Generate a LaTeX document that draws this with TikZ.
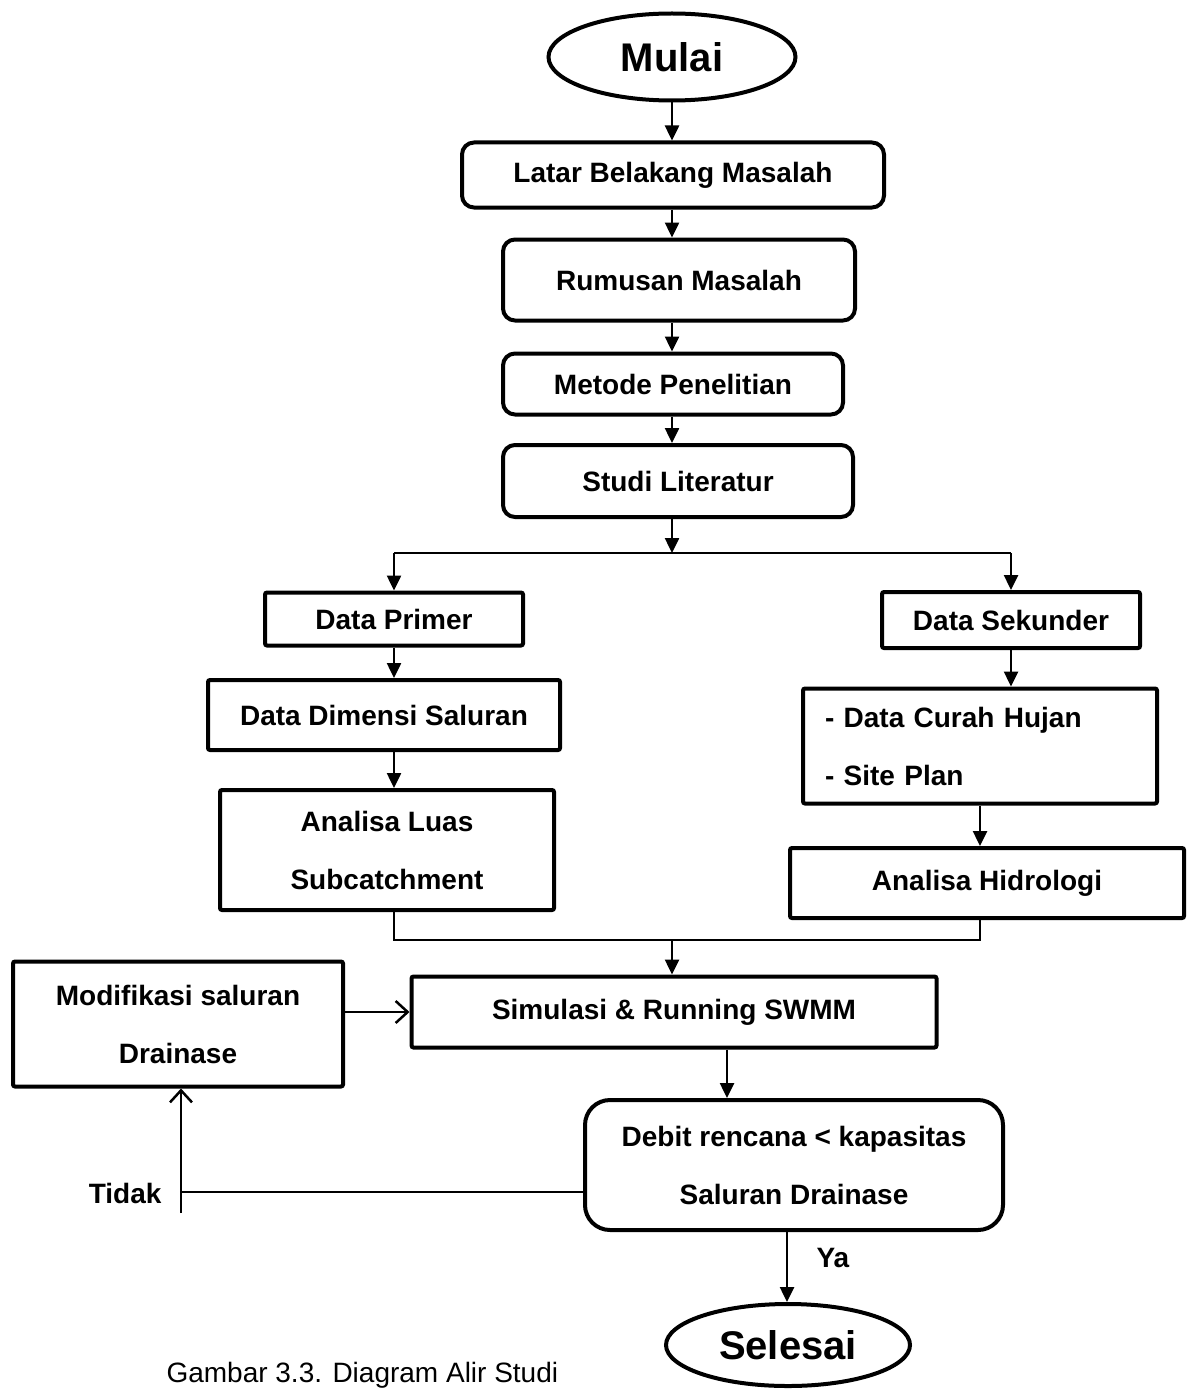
\documentclass[tikz,border=0pt]{standalone}
\usepackage{fontspec}
\setmainfont{Liberation Sans}
\usepackage{tikz}
\usetikzlibrary{shapes.geometric, arrows.meta, positioning}
\tikzset{
>={Triangle[length=15pt,width=14pt]}, % filled arrow heads
box/.style={draw, line width=4pt, rounded corners=2pt, align=center, inner sep=0pt,
  font=\bfseries\fontsize{28}{58}\selectfont}, % plain process box
rbox/.style={box, rounded corners=12pt}, % rounded process box
term/.style={ellipse, draw, line width=4pt, inner sep=0pt,
  font=\bfseries\fontsize{40}{46}\selectfont}, % start / end
flow/.style={line width=2.5pt}, % connectors
openarrow/.style={flow, -{Straight Barb[length=12pt,width=22pt,line width=2.5pt]}}, % open head
lbl/.style={font=\bfseries\fontsize{28}{30}\selectfont}, % Ya / Tidak
}

\begin{document}
\begin{tikzpicture}[x=1pt,y=-1pt]
        \useasboundingbox (0,0) rectangle (1186,1391);

        \node[term, minimum width=247pt, minimum height=87pt] (mulai) at (672,57) {Mulai};
        \node[rbox, minimum width=422pt, minimum height=65pt] (latar) at (673,175) {Latar Belakang Masalah};
        \node[rbox, minimum width=352pt, minimum height=81pt] (rumusan) at (679,280) {Rumusan Masalah};
        \node[rbox, minimum width=340pt, minimum height=61pt] (metode) at (673,384) {Metode Penelitian};
        \node[rbox, minimum width=350pt, minimum height=72pt] (studi) at (678,481) {Studi Literatur};
        \coordinate (split) at (672,553);

        \node[box, minimum width=258pt, minimum height=53pt] (primer) at (394,619) {Data Primer};
        \node[box, minimum width=352pt, minimum height=70pt] (dimensi) at (384,715) {Data Dimensi Saluran};
        \node[box, minimum width=334pt, minimum height=120pt] (luas) at (387,850) {Analisa Luas\\Subcatchment};

        \node[box, minimum width=258pt, minimum height=56pt] (sekunder) at (1011,620) {Data Sekunder};
        \node[box, minimum width=354pt, minimum height=115pt, text width=310pt, align=left] (curah) at (980,746) {- Data Curah Hujan\\- Site Plan};
        \node[box, minimum width=394pt, minimum height=70pt] (hidro) at (987,883) {Analisa Hidrologi};
        \coordinate (merge) at (672,940);

        \node[box, minimum width=525pt, minimum height=71pt] (simulasi) at (674,1012) {Simulasi \& Running SWMM};
        \node[box, minimum width=330pt, minimum height=125pt] (modif) at (178,1024) {Modifikasi saluran\\Drainase};
        \node[box, rounded corners=25pt, minimum width=418pt, minimum height=130pt] (debit) at (794,1165) {Debit rencana < kapasitas\\Saluran Drainase};
        \node[term, minimum width=244pt, minimum height=82pt] (selesai) at (788,1345) {Selesai};
        \coordinate (tturn) at (181,1192);

        \node[lbl, anchor=east] (tidak) at (165,1193) {Tidak};
        \node[lbl, anchor=west] (ya) at (813,1258) {Ya};
        \node[font=\fontsize{28}{30}\selectfont, anchor=base west] (caption) at (163,1382) {Gambar 3.3. Diagram Alir Studi};

        % main column
        \draw[flow,->] (mulai.south) -- (latar.north -| mulai);
        \draw[flow,->] (latar.south -| mulai) -- (rumusan.north -| mulai);
        \draw[flow,->] (rumusan.south -| mulai) -- (metode.north -| mulai);
        \draw[flow,->] (metode.south -| mulai) -- (studi.north -| mulai);
        \draw[flow,->] (studi.south -| split) -- (split);

        % two branches
        \draw[flow] (split -| primer) -- (split -| sekunder);
        \draw[flow,->] (split -| primer) -- (primer.north);
        \draw[flow,->] (split -| sekunder) -- (sekunder.north);
        \draw[flow,->] (primer.south) -- (dimensi.north -| primer);
        \draw[flow,->] (dimensi.south -| primer) -- (luas.north -| primer);
        \draw[flow,->] (sekunder.south) -- (curah.north -| sekunder);
        \draw[flow,->] (curah.south) -- (hidro.north -| curah);
        \draw[flow] (luas.south -| primer) -- (merge -| primer) -- (merge -| curah) -- (hidro.south -| curah);
        \draw[flow,->] (merge) -- (simulasi.north -| merge);

        % check and loop back
        \draw[openarrow] (modif.east |- simulasi) -- (simulasi.west);
        \draw[flow,->] ([xshift=53pt]simulasi.south) -- ([xshift=53pt]simulasi.south |- debit.north);
        \draw[flow,->] ([xshift=-7pt]debit.south) -- ([xshift=-7pt]debit.south |- selesai.north);
        \draw[flow] (debit.west |- tturn) -- (tturn);
        \draw[openarrow] ([yshift=-21pt]tturn) -- (tturn |- modif.south);
\end{tikzpicture}
\end{document}
